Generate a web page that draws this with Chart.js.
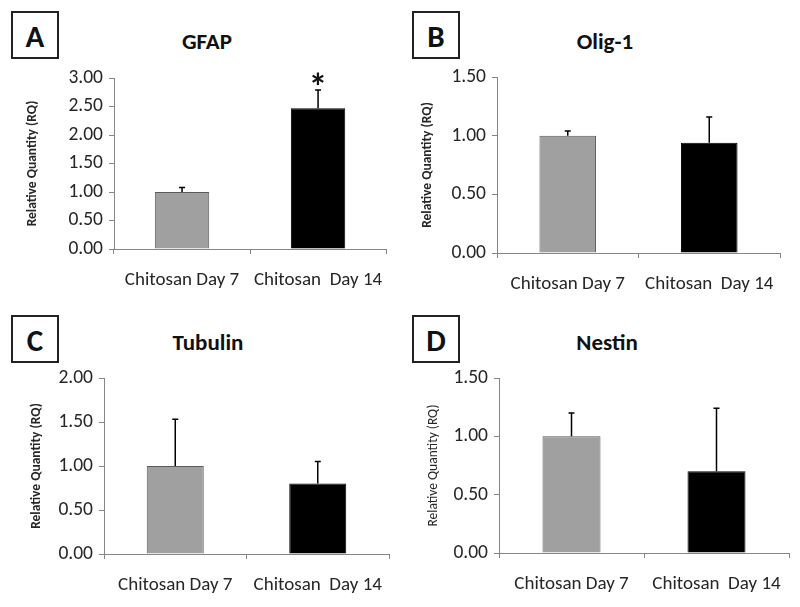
<!DOCTYPE html>
<html>
<head>
<meta charset="utf-8">
<script src="https://cdn.jsdelivr.net/npm/chart.js@4"></script>
<style>
  html, body { margin: 0; padding: 0; background: #fff; overflow: hidden; }
  #stage { position: relative; width: 800px; height: 607px; font-family: Carlito, Lato, sans-serif; }
  canvas { position: absolute; }
  .letter {
    position: absolute; width: 44px; height: 44px; border: 2px solid #222;
    font-weight: bold; font-size: 31px; line-height: 46px; text-align: center; color: #111;
  }
  .ptitle {
    position: absolute; transform: translate(-50%, -50%);
    font-weight: bold; font-size: 23px; color: #111; white-space: nowrap;
  }
</style>
</head>
<body>
<div id="stage">
  <div class="letter" style="left:11px;top:11px">A</div>
  <div class="ptitle" style="left:207px;top:41px">GFAP</div>
  <div class="letter" style="left:412px;top:11px">B</div>
  <div class="ptitle" style="left:605px;top:41px">Olig-1</div>
  <div class="letter" style="left:11px;top:315px">C</div>
  <div class="ptitle" style="left:208px;top:342px">Tubulin</div>
  <div class="letter" style="left:412px;top:315px">D</div>
  <div class="ptitle" style="left:607px;top:342px">Nestin</div>

  <canvas id="chartA" width="400" height="300" style="left:0;top:0"></canvas>
  <canvas id="chartB" width="400" height="300" style="left:400px;top:0"></canvas>
  <canvas id="chartC" width="400" height="307" style="left:0;top:300px"></canvas>
  <canvas id="chartD" width="400" height="307" style="left:400px;top:300px"></canvas>
</div>
<script>
// --- Datos ---
const categories = ['Chitosan Day 7', 'Chitosan  Day 14'];

const gfapMean = [1.00, 2.47];
const gfapErr = [0.08, 0.32];
const gfapMarks = ['', '*'];

const olig1Mean = [1.00, 0.94];
const olig1Err = [0.04, 0.22];

const tubulinMean = [1.00, 0.80];
const tubulinErr = [0.53, 0.25];

const nestinMean = [1.00, 0.70];
const nestinErr = [0.20, 0.54];

const yMaxA = 3.0, yMaxB = 1.5, yMaxC = 2.0, yMaxD = 1.5;
const yStep = 0.5;

const barColors = ['#a0a0a0', '#000000'];
const barBorders = ['#5a5a5a', '#000000'];
const axisColor = '#868686';
const textColor = '#262626';
const fontFamily = 'Carlito, Lato, sans-serif';

// --- Barras de error (solo hacia arriba) ---
const errorBars = {
  id: 'errorBars',
  afterDatasetsDraw(chart) {
    const ctx = chart.ctx;
    const yScale = chart.scales.y;
    const ds = chart.data.datasets[0];
    const meta = chart.getDatasetMeta(0);
    ctx.save();
    ctx.strokeStyle = '#000';
    ctx.lineWidth = 1.5;
    meta.data.forEach((bar, i) => {
      const top = yScale.getPixelForValue(ds.data[i] + ds.errors[i]);
      ctx.beginPath();
      ctx.moveTo(bar.x, bar.y);
      ctx.lineTo(bar.x, top);
      ctx.moveTo(bar.x - 3, top);
      ctx.lineTo(bar.x + 3, top);
      ctx.stroke();
      // marca de significancia sobre la barra de error
      if (ds.marks && ds.marks[i]) {
        ctx.fillStyle = '#111';
        ctx.font = 'bold 38px ' + fontFamily;
        ctx.textAlign = 'center';
        ctx.textBaseline = 'alphabetic';
        ctx.fillText(ds.marks[i], bar.x, top + 10);
      }
    });
    ctx.restore();
  }
};

function makePanel(id, mean, err, marks, yMax, box) {
  const padLeft = box.titleX - 10;
  const yWidth = box.axisX - padLeft;
  const xHeight = box.h - box.bottom;
  return new Chart(document.getElementById(id), {
    type: 'bar',
    data: {
      labels: categories,
      datasets: [{
        data: mean,
        errors: err,
        marks: marks,
        backgroundColor: barColors,
        borderColor: barBorders,
        borderWidth: 1,
        barPercentage: 0.4,
        categoryPercentage: 1.0
      }]
    },
    options: {
      responsive: false,
      animation: false,
      layout: {
        padding: { left: padLeft, right: box.w - box.right, top: box.top, bottom: 0 }
      },
      plugins: {
        legend: { display: false },
        title: { display: false },
        tooltip: { enabled: false }
      },
      scales: {
        x: {
          grid: { display: true, drawOnChartArea: false, color: axisColor, tickLength: 5, offset: true },
          border: { color: axisColor, width: 1 },
          ticks: { color: textColor, font: { family: fontFamily, size: 19 }, padding: 15, maxRotation: 0 },
          afterFit(scale) { scale.height = xHeight; }
        },
        y: {
          min: 0,
          max: yMax,
          grid: { display: true, drawOnChartArea: false, color: axisColor, tickLength: 5 },
          border: { color: axisColor, width: 1 },
          ticks: {
            stepSize: yStep,
            color: textColor,
            padding: 6,
            font: { family: fontFamily, size: 19.5 },
            callback: v => Number(v).toFixed(2)
          },
          title: {
            display: true,
            text: 'Relative Quantity (RQ)',
            color: textColor,
            padding: { top: 2, bottom: 0 },
            font: { family: fontFamily, size: 13.5, weight: box.titleWeight }
          },
          afterFit(scale) { scale.width = yWidth; }
        }
      }
    },
    plugins: [errorBars]
  });
}

makePanel('chartA', gfapMean, gfapErr, gfapMarks, yMaxA,
  { w: 400, h: 300, titleX: 33, axisX: 114, right: 389, top: 78, bottom: 249, titleWeight: 'bold' });
makePanel('chartB', olig1Mean, olig1Err, null, yMaxB,
  { w: 400, h: 300, titleX: 28, axisX: 97, right: 380, top: 77, bottom: 253, titleWeight: 'bold' });
makePanel('chartC', tubulinMean, tubulinErr, null, yMaxC,
  { w: 400, h: 307, titleX: 37, axisX: 104, right: 389, top: 78, bottom: 254, titleWeight: 'bold' });
makePanel('chartD', nestinMean, nestinErr, null, yMaxD,
  { w: 400, h: 307, titleX: 34, axisX: 99, right: 389, top: 78, bottom: 253, titleWeight: 'normal' });
</script>
</body>
</html>
